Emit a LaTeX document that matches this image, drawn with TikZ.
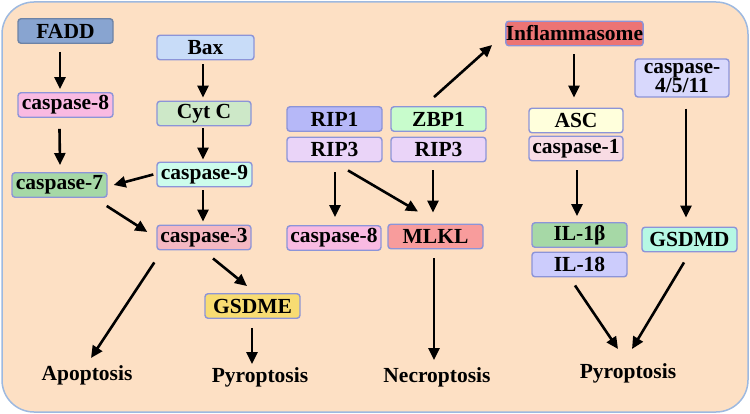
\documentclass[tikz,border=0pt]{standalone}
\usepackage{fontspec}
\setmainfont{Liberation Serif}
\usetikzlibrary{arrows.meta,calc}
\definecolor{bgc}{HTML}{FDE0C4}
\definecolor{bgb}{HTML}{9DB9E0}
\definecolor{bxb}{HTML}{8C94D8}
\definecolor{cFADD}{HTML}{88A4D0}
\definecolor{cBax}{HTML}{C8DCF8}
\definecolor{cCaspEight}{HTML}{F9BAE2}
\definecolor{cCyt}{HTML}{CDE8C8}
\definecolor{cCaspNine}{HTML}{CCFCEC}
\definecolor{cCaspSeven}{HTML}{A6D8A6}
\definecolor{cCaspThree}{HTML}{F4B8C2}
\definecolor{cGSDME}{HTML}{F8DC72}
\definecolor{cRIPone}{HTML}{B6B8F8}
\definecolor{cRIPthree}{HTML}{EAD4F8}
\definecolor{cZBP}{HTML}{C8FCCC}
\definecolor{cMLKL}{HTML}{F89C9C}
\definecolor{cInfl}{HTML}{EC7474}
\definecolor{cASC}{HTML}{FFFFDC}
\definecolor{cCaspOne}{HTML}{F8DCE4}
\definecolor{cCaspFour}{HTML}{D8D8FC}
\definecolor{cIL}{HTML}{A6D8A6}
\definecolor{cILe}{HTML}{CCCCFC}
\definecolor{cGSDMD}{HTML}{B6F8E4}
\tikzset{
  box/.style={draw=bxb, line width=1.4pt, rounded corners=3pt, minimum width=95pt, minimum height=24.5pt, inner sep=0pt, font=\fontsize{21.5}{20}\selectfont\bfseries, text=black},
  lbl/.style={inner sep=0pt, font=\fontsize{21.5}{20}\selectfont\bfseries, text=black},
  arr/.style={line width=2.6pt, -{Triangle[length=12pt,width=11pt]}},
}
\begin{document}
\begin{tikzpicture}[x=1pt,y=-1pt]
\useasboundingbox (0,0) rectangle (750,414);
\fill[bgc, draw=bgb, line width=1.5pt, rounded corners=32pt] (2,2) rectangle (748,412);
% left
\node[box, fill=cFADD, draw=cFADD!80!black] (FADD) at (65.5,31) {FADD};
\node[box, fill=cBax, minimum width=97pt] (Bax) at (205.5,47.5) {Bax};
\node[box, fill=cCaspEight] (c8L) at (65.5,105) {caspase-8};
\node[box, fill=cCyt, minimum width=94pt] (Cyt) at (204,113.5) {Cyt C};
\node[box, fill=cCaspNine] (c9) at (204.5,174.5) {caspase-9};
\node[box, fill=cCaspSeven] (c7) at (59.5,185) {caspase-7};
\node[box, fill=cCaspThree, minimum width=94pt] (c3) at (204,237.5) {caspase-3};
\node[box, fill=cGSDME] (GSDME) at (252.5,306) {GSDME};
\node[lbl] (Apo) at (87,375) {Apoptosis};
\node[lbl] (PyL) at (260,377) {Pyroptosis};
% middle
\node[box, fill=cRIPone] (RIP1) at (334.5,119) {RIP1};
\node[box, fill=cRIPthree] (RIP3a) at (334.5,149.5) {RIP3};
\node[box, fill=cZBP] (ZBP1) at (438.5,119) {ZBP1};
\node[box, fill=cRIPthree] (RIP3b) at (438.5,149.5) {RIP3};
\node[box, fill=cCaspEight, minimum width=94pt] (c8M) at (334,238) {caspase-8};
\node[box, fill=cMLKL] (MLKL) at (435.5,236.5) {MLKL};
\node[lbl] (Nec) at (437,377) {Necroptosis};
% right
\node[box, fill=cInfl, minimum width=135pt] (Infl) at (574.5,33.5) {Inflammasome};
\node[box, fill=cASC, minimum width=94pt] (ASC) at (576,120.5) {ASC};
\node[box, fill=cCaspOne, minimum width=94pt] (c1) at (576,148.5) {caspase-1};
\node[box, fill=cCaspFour, minimum width=94pt, minimum height=38pt, align=center, font=\fontsize{21.5}{19.5}\selectfont\bfseries] (c4) at (682,78) {caspase-\\4/5/11};
\node[box, fill=cIL] (IL1b) at (579.5,235) {IL-1\textbf{β}};
\node[box, fill=cILe] (IL18) at (579.5,264.5) {IL-18};
\node[box, fill=cGSDMD] (GSDMD) at (689.5,239.5) {GSDMD};
\node[lbl] (PyR) at (628,373) {Pyroptosis};
% arrows
\draw[arr] ([shift={(-5.5,8)}]FADD.south) -- ([shift={(-5.5,-3)}]c8L.north);
\draw[arr] ([shift={(-6,11)}]c8L.south) -- ([shift={(0.5,-7)}]c7.north);
\draw[arr] ([shift={(-2.5,4)}]Bax.south) -- ([shift={(-1,-3)}]Cyt.north);
\draw[arr] ([shift={(-1,2)}]Cyt.south) -- ([shift={(-1.5,-2)}]c9.north);
\draw[arr] ([shift={(-3,0)}]c9.west) -- ([shift={(6,0)}]c7.east);
\draw[arr] ([shift={(-1,8)}]c7.south east) -- ([shift={(-9,-5.5)}]c3.west);
\draw[arr] ([shift={(-1.5,3)}]c9.south) -- ([shift={(-1,-3)}]c3.north);
\draw[arr] ([shift={(-2,12)}]c3.south west) -- ([shift={(4,-17)}]Apo.center);
\draw[arr] ([shift={(9,8)}]c3.south) -- ([shift={(-5.5,-7)}]GSDME.north);
\draw[arr] ([shift={(-0.5,9)}]GSDME.south) -- ([shift={(-8,-13)}]PyL.center);
\draw[arr] ([shift={(0.5,10)}]RIP3a.south) -- ([shift={(1,-8)}]c8M.north);
\draw[arr] ([shift={(13.5,8)}]RIP3a.south) -- ([shift={(-17.5,-12)}]MLKL.north);
\draw[arr] ([shift={(-5.5,8)}]RIP3b.south) -- ([shift={(-2.5,-11)}]MLKL.north);
\draw[arr] ([shift={(-1.5,9)}]MLKL.south) -- ([shift={(-3,-17)}]Nec.center);
\draw[arr] ([shift={(-4.5,-9)}]ZBP1.north) -- ([shift={(-13,11.5)}]Infl.west);
\draw[arr] ([shift={(-0.5,8)}]Infl.south) -- ([shift={(-2,-10)}]ASC.north);
\draw[arr] ([shift={(1,9)}]c1.south) -- ([shift={(-2.5,-6)}]IL1b.north);
\draw[arr] ([shift={(4,11)}]c4.south) -- ([shift={(-3.5,-9)}]GSDMD.north);
\draw[arr] ([shift={(-4.5,8)}]IL18.south) -- ([shift={(-10,-24)}]PyR.center);
\draw[arr] ([shift={(-5.5,10)}]GSDMD.south) -- ([shift={(4,-24)}]PyR.center);
\end{tikzpicture}
\end{document}
